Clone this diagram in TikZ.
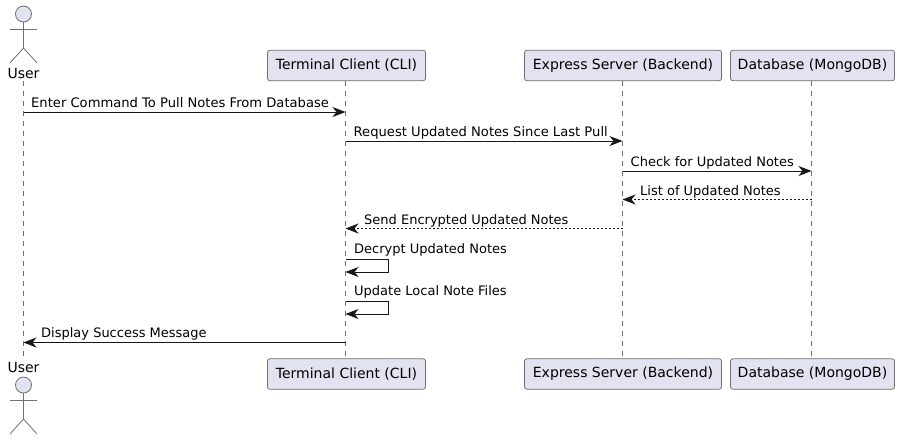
\documentclass[tikz,border=0pt]{standalone}
\usepackage{fontspec}
\setmainfont{DejaVu Sans}
\usetikzlibrary{arrows.meta}
\definecolor{mfill}{HTML}{E2E2F0}
\definecolor{mline}{HTML}{181818}
\definecolor{mthin}{HTML}{707070}
\tikzset{
  box/.style = {draw=mthin, line width=0.8, fill=mfill, rounded corners=2.5, inner sep=0, minimum height=30.5, font=\fontsize{14}{16}\selectfont, text=black},
  life/.style = {draw=mthin, line width=0.7, dash pattern=on 5 off 5},
  stick/.style = {draw=mthin, line width=0.8},
  head/.style = {draw=mthin, line width=0.8, fill=mfill, circle, inner sep=0, minimum size=16},
  who/.style = {inner sep=0, minimum height=16, font=\fontsize{14}{16}\selectfont, text=black},
  msg/.style = {draw=mline, line width=0.9, -{Stealth[length=13, width=10, inset=4]}},
  back/.style = {msg, dash pattern=on 2 off 2},
  say/.style = {inner sep=0, anchor=base west, font=\fontsize{13}{15}\selectfont, text=black},
  saylong/.style = {say, font=\fontsize{13.12}{15}\selectfont}
}
\begin{document}
\begin{tikzpicture}[x=1pt, y=-1pt]
  \useasboundingbox (0, 0) rectangle (899, 440);

  % participants, top and bottom row
  \foreach \n/\x/\w/\t in {cli/346.5/158/Terminal Client (CLI), srv/623/197/Express Server (Backend), db/812.5/164/Database (MongoDB)} {
    \node [box, minimum width=\w] (\n top) at (\x, 65.5) {\t};
    \node [box, minimum width=\w] (\n bot) at (\x, 374) {\t};
  }

  % the actor, twice
  \node [who] (usertop) at (23.5, 73) {User};
  \node [who] (userbot) at (23.5, 367) {User};
  \foreach \n/\y in {a/14, b/385} {
    \node [head] (\n head) at (23.5, \y) {};
    \coordinate (\n hip) at (23.5, \y + 34);
    \draw [stick] (\n head) -- (\n hip);
    \draw [stick] (10, \y + 15) -- (37, \y + 15);
    \draw [stick] (10, \y + 49) -- (\n hip) -- (37, \y + 49);
  }

  % lifelines
  \draw [life] (usertop) ++(0, 8) -- (userbot.north);
  \draw [life] (345.5, 80.75) -- (345.5, 358.75);
  \draw [life] (622.5, 80.75) -- (622.5, 358.75);
  \draw [life] (811.5, 80.75) -- (811.5, 358.75);

  % message ends
  \foreach \n/\x in {u/23.5, c/345.5, s/622.5, d/811.5} {
    \foreach \i/\y in {1/112, 2/141, 3/171, 4/199.5, 5/228.5, 6/342.5} {
      \coordinate (\n\i) at (\x, \y);
    }
  }
  \coordinate (turna) at (388.5, 259);
  \coordinate (turnb) at (388.5, 301);
  \coordinate (c7) at (345.5, 259);
  \coordinate (c8) at (345.5, 272);
  \coordinate (c9) at (345.5, 301);
  \coordinate (c10) at (345.5, 314);

  \draw [msg] (u1) -- (c1);
  \node [saylong] (m1) at (31, 107) {Enter Command To Pull Notes From Database};
  \draw [msg] (c2) -- (s2);
  \node [saylong] (m2) at (353.5, 136) {Request Updated Notes Since Last Pull};
  \draw [msg] (s3) -- (d3);
  \node [say] (m3) at (630.5, 166) {Check for Updated Notes};
  \draw [back] (d4) -- (s4);
  \node [say] (m4) at (640, 195) {List of Updated Notes};
  \draw [back] (s5) -- (c5);
  \node [say] (m5) at (364, 224) {Send Encrypted Updated Notes};
  \draw [msg] (c7) -- (turna) |- (c8);
  \node [say] (m6) at (354, 253) {Decrypt Updated Notes};
  \draw [msg] (c9) -- (turnb) |- (c10);
  \node [say] (m7) at (354, 295) {Update Local Note Files};
  \draw [msg] (c6) -- (u6);
  \node [say] (m8) at (41, 337) {Display Success Message};
\end{tikzpicture}
\end{document}
